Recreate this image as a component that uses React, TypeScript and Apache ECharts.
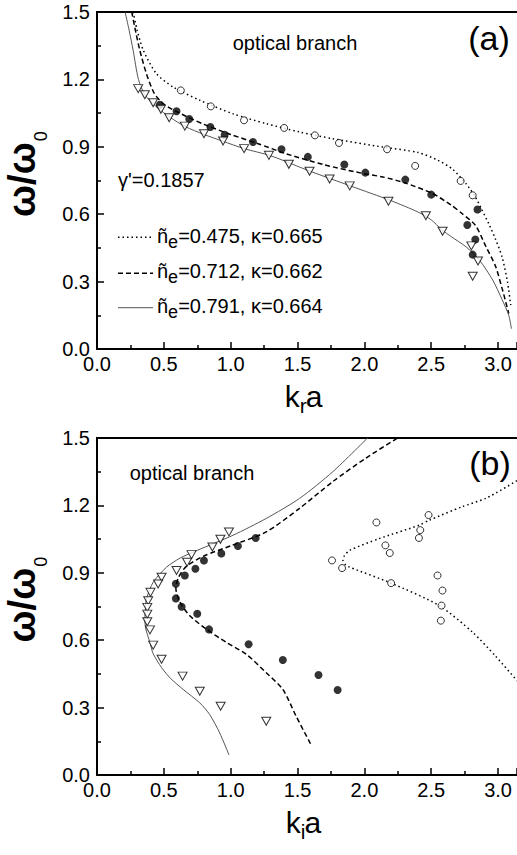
import React, { useEffect, useRef } from 'react';
import * as echarts from 'echarts';

// ---------- data ----------
const X_MAX = 3.1416;
const X_TICK_STEP = 0.5;
const Y_MIN = 0;
const Y_MAX = 1.5;
const Y_TICK_STEP = 0.3;

const curveNe = ['0.475', '0.712', '0.791'];
const curveKappa = ['0.665', '0.662', '0.664'];
const gammaLabel = "γ'=0.1857";
const branchLabel = 'optical branch';
const panelLabels = ['(a)', '(b)'];

// panel (a): omega vs k_r a
const topDotted = [[0.27, 1.5], [0.3, 1.42], [0.346, 1.33], [0.445, 1.225], [0.57, 1.166], [0.769, 1.107], [1.017, 1.047], [1.266, 1.003], [1.515, 0.966], [1.764, 0.936], [2.137, 0.899], [2.4, 0.875], [2.55, 0.84], [2.66, 0.8], [2.76, 0.736], [2.83, 0.677], [2.88, 0.618], [2.93, 0.558], [2.98, 0.49], [3.03, 0.41], [3.07, 0.3], [3.095, 0.195]];
const topDashed = [[0.26, 1.5], [0.29, 1.41], [0.32, 1.33], [0.37, 1.225], [0.43, 1.136], [0.5, 1.09], [0.6, 1.055], [0.8, 1.0], [1.0, 0.955], [1.2, 0.915], [1.415, 0.869], [1.7, 0.82], [2.0, 0.78], [2.137, 0.766], [2.3, 0.74], [2.51, 0.692], [2.65, 0.64], [2.73, 0.603], [2.83, 0.551], [2.91, 0.455], [2.98, 0.37], [3.03, 0.27], [3.08, 0.158]];
const topSolid = [[0.21, 1.5], [0.24, 1.42], [0.27, 1.33], [0.31, 1.2], [0.36, 1.13], [0.45, 1.075], [0.55, 1.03], [0.66, 0.99], [0.8, 0.955], [0.94, 0.925], [1.1, 0.892], [1.3, 0.86], [1.6, 0.79], [1.9, 0.725], [2.2, 0.66], [2.4, 0.61], [2.5, 0.575], [2.58, 0.53], [2.65, 0.5], [2.76, 0.455], [2.86, 0.396], [2.96, 0.307], [3.03, 0.22], [3.08, 0.15], [3.1, 0.09]];
const topOpenCircles = [[0.627, 1.151], [0.851, 1.08], [1.1, 1.018], [1.4, 0.984], [1.63, 0.951], [1.81, 0.917], [2.17, 0.889], [2.38, 0.815], [2.72, 0.748], [2.81, 0.684]];
const topFilledCircles = [[0.47, 1.087], [0.595, 1.058], [0.69, 1.024], [0.848, 0.988], [0.955, 0.954], [1.167, 0.921], [1.38, 0.889], [1.577, 0.855], [1.85, 0.821], [2.007, 0.785], [2.306, 0.754], [2.5, 0.687], [2.846, 0.621], [2.77, 0.552], [2.83, 0.487], [2.81, 0.42]];
const topTriangles = [[0.308, 1.159], [0.358, 1.132], [0.42, 1.096], [0.478, 1.067], [0.54, 1.029], [0.657, 0.992], [0.8, 0.958], [0.943, 0.926], [1.1, 0.892], [1.286, 0.862], [1.435, 0.822], [1.59, 0.791], [1.74, 0.757], [1.89, 0.726], [2.18, 0.658], [2.46, 0.593], [2.585, 0.524], [2.8, 0.459], [2.85, 0.392], [2.81, 0.324]];

// panel (b): omega vs k_i a
const botDotted = [[3.1416, 1.31], [2.91, 1.232], [2.73, 1.194], [2.485, 1.134], [2.41, 1.112], [2.11, 1.052], [1.89, 1.0], [1.85, 0.975], [1.84, 0.955], [1.86, 0.935], [1.89, 0.925], [2.2, 0.854], [2.56, 0.754], [2.81, 0.635], [2.98, 0.53], [3.1416, 0.42]];
const botDashed = [[1.597, 0.139], [1.49, 0.261], [1.39, 0.381], [1.266, 0.455], [1.117, 0.537], [0.968, 0.59], [0.818, 0.649], [0.694, 0.709], [0.62, 0.77], [0.59, 0.83], [0.61, 0.88], [0.67, 0.93], [0.8, 0.975], [1.0, 1.02], [1.266, 1.082], [1.515, 1.187], [1.764, 1.306], [2.01, 1.41], [2.27, 1.508]];
const botSolid = [[0.987, 0.09], [0.918, 0.187], [0.843, 0.269], [0.769, 0.321], [0.644, 0.381], [0.55, 0.43], [0.483, 0.478], [0.42, 0.54], [0.396, 0.59], [0.365, 0.65], [0.358, 0.694], [0.362, 0.74], [0.37, 0.784], [0.42, 0.858], [0.52, 0.925], [0.62, 0.965], [0.75, 1.0], [1.017, 1.067], [1.266, 1.142], [1.515, 1.231], [1.764, 1.35], [2.037, 1.508]];
const botOpenCircles = [[1.758, 0.955], [1.833, 0.921], [2.09, 1.124], [2.157, 1.022], [2.19, 0.988], [2.2, 0.854], [2.48, 1.157], [2.418, 1.09], [2.408, 1.055], [2.547, 0.888], [2.584, 0.821], [2.577, 0.754], [2.572, 0.687]];
const botFilledCircles = [[1.187, 1.055], [1.054, 1.019], [0.93, 0.986], [0.8, 0.955], [0.736, 0.918], [0.657, 0.888], [0.59, 0.851], [0.59, 0.786], [0.633, 0.749], [0.75, 0.718], [0.838, 0.648], [1.134, 0.582], [1.39, 0.512], [1.657, 0.445], [1.8, 0.378]];
const botTriangles = [[0.987, 1.082], [0.923, 1.049], [0.863, 1.015], [0.707, 0.981], [0.674, 0.947], [0.595, 0.91], [0.483, 0.88], [0.457, 0.85], [0.4, 0.813], [0.383, 0.776], [0.376, 0.746], [0.376, 0.716], [0.376, 0.682], [0.396, 0.646], [0.42, 0.578], [0.483, 0.515], [0.64, 0.44], [0.769, 0.373], [0.925, 0.306], [1.266, 0.239]];

// ---------- layout ----------
const W = 517;
const H = 855;
const FONT = '"Liberation Sans", Arial, sans-serif';
const GL = 97;
const GW = 421;
const GH = 337;
const TOPS = [12, 438];

function textWidth(text: string, size: number, weight = 'normal') {
  const c = document.createElement('canvas').getContext('2d');
  if (!c) return text.length * size * 0.55;
  c.font = `${weight} ${size}px "Liberation Sans", Arial, sans-serif`;
  return c.measureText(text).width;
}

function txt(x: number, baseline: number, text: string, size: number, align = 'left', weight = 'normal') {
  return {
    type: 'text',
    x,
    y: baseline - 0.35 * size,
    silent: true,
    style: {
      text,
      fontSize: size,
      fontFamily: FONT,
      fontWeight: weight,
      fill: '#000',
      align,
      verticalAlign: 'middle',
    },
  };
}

const DOTTED = [1.5, 3];
const DASHED = [5, 3];

export default function App() {
  const ref = useRef<HTMLDivElement>(null);

  useEffect(() => {
    if (!ref.current) return;
    const chart = echarts.init(ref.current, undefined, { renderer: 'svg' });

    const xAxisBase = (gi: number) => ({
      type: 'value',
      gridIndex: gi,
      min: 0,
      max: X_MAX,
      interval: X_TICK_STEP,
      axisLine: { show: true, onZero: false, lineStyle: { color: '#000', width: 2 } },
      axisTick: { show: true, inside: true, length: 7, lineStyle: { color: '#000', width: 1.5 } },
      minorTick: { show: true, splitNumber: 2, length: 4, lineStyle: { color: '#000', width: 1.5 } },
      splitLine: { show: false },
      axisLabel: {
        show: true,
        margin: 5,
        fontSize: 20,
        fontFamily: FONT,
        color: '#000',
        showMaxLabel: false,
        formatter: (v: number) => v.toFixed(1),
      },
    });
    const yAxisBase = (gi: number) => ({
      type: 'value',
      gridIndex: gi,
      min: Y_MIN,
      max: Y_MAX,
      interval: Y_TICK_STEP,
      axisLine: { show: true, onZero: false, lineStyle: { color: '#000', width: 2 } },
      axisTick: { show: true, inside: true, length: 7, lineStyle: { color: '#000', width: 1.5 } },
      minorTick: { show: true, splitNumber: 2, length: 4, lineStyle: { color: '#000', width: 1.5 } },
      splitLine: { show: false },
      axisLabel: {
        show: true,
        margin: 7,
        fontSize: 20,
        fontFamily: FONT,
        color: '#000',
        formatter: (v: number) => v.toFixed(1),
      },
    });

    const lineSeries = (data: number[][], gi: number, kind: 'dotted' | 'dashed' | 'solid') => ({
      type: 'line',
      xAxisIndex: gi,
      yAxisIndex: gi,
      data,
      showSymbol: false,
      symbol: 'none',
      smooth: 0.25,
      silent: true,
      z: 2,
      lineStyle:
        kind === 'solid'
          ? { color: '#555', width: 1, type: 'solid' }
          : { color: '#000', width: 1.5, type: kind === 'dotted' ? DOTTED : DASHED },
    });
    const scatter = (data: number[][], gi: number, kind: 'open' | 'filled' | 'tri') => ({
      type: 'scatter',
      xAxisIndex: gi,
      yAxisIndex: gi,
      data,
      silent: true,
      z: 3,
      symbol: kind === 'tri' ? 'triangle' : 'circle',
      symbolRotate: kind === 'tri' ? 180 : 0,
      symbolSize: kind === 'tri' ? [9, 8] : kind === 'open' ? 7 : 8,
      itemStyle:
        kind === 'filled'
          ? { color: '#000', borderColor: '#000', borderWidth: 0 }
          : { color: '#fff', borderColor: '#000', borderWidth: 1 },
    });

    // ----- graphic texts -----
    const graphics: any[] = [];
    // top frame lines (right side of the frame lies outside the picture)
    for (const t of TOPS) {
      graphics.push({
        type: 'line',
        silent: true,
        shape: { x1: GL - 1, y1: t, x2: W, y2: t },
        style: { stroke: '#000', lineWidth: 2 },
      });
    }
    // optical branch and panel labels
    graphics.push(txt(295, 50, branchLabel, 20, 'center'));
    graphics.push(txt(489, 50, panelLabels[0], 34, 'center'));
    graphics.push(txt(192, 480, branchLabel, 20, 'center'));
    graphics.push(txt(490, 475, panelLabels[1], 34, 'center'));
    // gamma
    graphics.push(txt(118, 187, gammaLabel, 20));
    // legend
    const legendBase = [243.3, 278.3, 313.3];
    const legendLineY = [237.3, 273.3, 307.7];
    const styles = [
      { stroke: '#000', lineWidth: 1.5, lineDash: DOTTED },
      { stroke: '#000', lineWidth: 1.5, lineDash: DASHED },
      { stroke: '#555', lineWidth: 1 },
    ];
    for (let i = 0; i < 3; i++) {
      graphics.push({
        type: 'line',
        silent: true,
        shape: { x1: 118, y1: legendLineY[i], x2: 153, y2: legendLineY[i] },
        style: styles[i],
      });
      const x0 = 157;
      const wN = textWidth('ñ', 20);
      const wE = textWidth('e', 18);
      graphics.push(txt(x0, legendBase[i], 'ñ', 20));
      graphics.push(txt(x0 + wN, legendBase[i] + 5, 'e', 18));
      graphics.push(txt(x0 + wN + wE, legendBase[i], `=${curveNe[i]}, κ=${curveKappa[i]}`, 20));
    }
    // x axis titles
    const xTitleBase = [407, 833];
    const xSubs = ['r', 'i'];
    for (let p = 0; p < 2; p++) {
      const f = 30;
      const fs = 21;
      const wk = textWidth('k', f);
      const ws = textWidth(xSubs[p], fs);
      const wa = textWidth('a', f);
      const total = wk + ws + wa;
      const x0 = 304 - total / 2;
      graphics.push(txt(x0, xTitleBase[p], 'k', f));
      graphics.push(txt(x0 + wk, xTitleBase[p] + 6, xSubs[p], fs));
      graphics.push(txt(x0 + wk + ws - 1, xTitleBase[p], 'a', f));
    }
    // y axis titles (rotated)
    const yStart = [217, 642.5];
    for (let p = 0; p < 2; p++) {
      const f = 38;
      const fs = 18;
      const wMain = textWidth('ω/ω', f, 'bold');
      graphics.push({
        type: 'group',
        x: 35 - 0.35 * f,
        y: yStart[p],
        rotation: Math.PI / 2,
        silent: true,
        children: [
          {
            type: 'text',
            x: 0,
            y: 0,
            style: { text: 'ω/ω', fontSize: f, fontWeight: 'bold', fontFamily: FONT, fill: '#000', align: 'left', verticalAlign: 'middle' },
          },
          {
            type: 'text',
            x: wMain + 1,
            y: 47 - 0.35 * fs - (35 - 0.35 * f),
            style: { text: '0', fontSize: fs, fontWeight: 'normal', fontFamily: FONT, fill: '#000', align: 'left', verticalAlign: 'middle' },
          },
        ],
      });
    }

    const option: any = {
      animation: false,
      backgroundColor: '#fff',
      grid: TOPS.map((t) => ({
        left: GL,
        top: t,
        width: GW,
        height: GH,
        show: false,
        containLabel: false,
      })),
      xAxis: [xAxisBase(0), xAxisBase(1)],
      yAxis: [yAxisBase(0), yAxisBase(1)],
      series: [
        lineSeries(topDotted, 0, 'dotted'),
        lineSeries(topDashed, 0, 'dashed'),
        lineSeries(topSolid, 0, 'solid'),
        scatter(topOpenCircles, 0, 'open'),
        scatter(topFilledCircles, 0, 'filled'),
        scatter(topTriangles, 0, 'tri'),
        lineSeries(botDotted, 1, 'dotted'),
        lineSeries(botDashed, 1, 'dashed'),
        lineSeries(botSolid, 1, 'solid'),
        scatter(botOpenCircles, 1, 'open'),
        scatter(botFilledCircles, 1, 'filled'),
        scatter(botTriangles, 1, 'tri'),
      ],
      graphic: { elements: graphics },
    };
    chart.setOption(option);
    return () => chart.dispose();
  }, []);

  return (
    <div
      ref={ref}
      style={{ position: 'absolute', left: 0, top: 0, width: W, height: H, background: '#fff' }}
    />
  );
}
